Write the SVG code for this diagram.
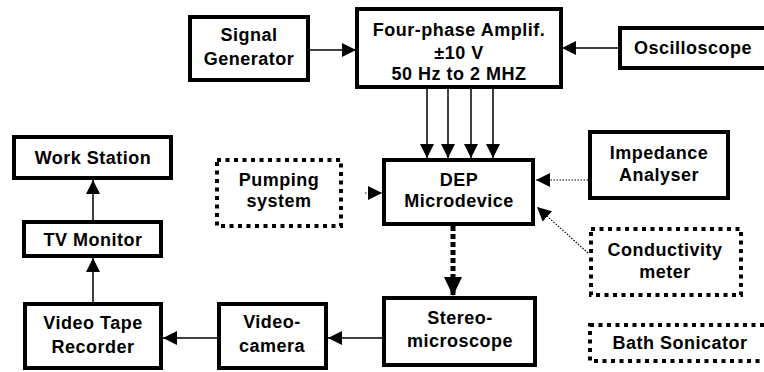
<svg xmlns="http://www.w3.org/2000/svg" width="764" height="372" viewBox="0 0 764 372">
  <style>
    .box { fill: #fff; stroke: #000; stroke-width: 4; }
    .dbox { fill: #fff; stroke: #000; stroke-width: 4; stroke-dasharray: 4 4.5; }
    .lbl { font-family: "Liberation Sans", Arial, sans-serif; font-weight: bold; font-size: 18px; letter-spacing: 0.5px; text-anchor: middle; dominant-baseline: central; fill: #000; }
    .wire { fill: none; stroke: #000; stroke-width: 1.5; }
    .dot { fill: none; stroke: #000; stroke-width: 1.2; stroke-dasharray: 1.5 1.5; }
    .thick { fill: none; stroke: #000; stroke-width: 5; stroke-dasharray: 5 3; }
  </style>
  <defs>
    <marker id="head" markerUnits="userSpaceOnUse" markerWidth="15" markerHeight="15" refX="14" refY="7" orient="auto">
      <path d="M0,0 L14,7 L0,14 z" fill="#000"/>
    </marker>
    <marker id="bighead" markerUnits="userSpaceOnUse" markerWidth="20" markerHeight="20" refX="19" refY="9" orient="auto">
      <path d="M0,0 L19,9 L0,18 z" fill="#000"/>
    </marker>
  </defs>
  <rect width="764" height="372" fill="#fff"/>

  <g id="connectors">
    <line class="wire" x1="310" y1="50" x2="356" y2="50" marker-end="url(#head)"/>
    <line class="wire" x1="618" y1="48" x2="562" y2="48" marker-end="url(#head)"/>
    <line class="wire" x1="427" y1="89" x2="427" y2="158" marker-end="url(#head)"/>
    <line class="wire" x1="448" y1="89" x2="448" y2="158" marker-end="url(#head)"/>
    <line class="wire" x1="471" y1="89" x2="471" y2="158" marker-end="url(#head)"/>
    <line class="wire" x1="493" y1="89" x2="493" y2="158" marker-end="url(#head)"/>
    <line class="dot" x1="365" y1="193" x2="382" y2="193" marker-end="url(#head)"/>
    <line class="dot" x1="588" y1="180" x2="536" y2="180" marker-end="url(#head)"/>
    <line class="dot" x1="588" y1="253" x2="537" y2="207" marker-end="url(#head)"/>
    <line class="thick" x1="453" y1="226" x2="453" y2="296" marker-end="url(#bighead)"/>
    <line class="wire" x1="382" y1="338" x2="328" y2="338" marker-end="url(#head)"/>
    <line class="wire" x1="217" y1="338" x2="163" y2="338" marker-end="url(#head)"/>
    <line class="wire" x1="93" y1="302" x2="93" y2="258" marker-end="url(#head)"/>
    <line class="wire" x1="93" y1="220" x2="93" y2="180" marker-end="url(#head)"/>
  </g>

  <g id="signal-generator">
    <rect class="box" x="190" y="17" width="118" height="63"/>
    <text class="lbl" x="249" y="35">Signal</text>
    <text class="lbl" x="249" y="59">Generator</text>
  </g>

  <g id="amplifier">
    <rect class="box" x="357" y="9" width="204" height="78"/>
    <text class="lbl" x="459" y="30">Four-phase Amplif.</text>
    <text class="lbl" x="459" y="53">±10 V</text>
    <text class="lbl" x="459" y="74">50  Hz to 2  MHZ</text>
  </g>

  <g id="oscilloscope">
    <rect class="box" x="620" y="28" width="160" height="40"/>
    <text class="lbl" x="693" y="48">Oscilloscope</text>
  </g>

  <g id="impedance-analyser">
    <rect class="box" x="590" y="132" width="138" height="66"/>
    <text class="lbl" x="659" y="153">Impedance</text>
    <text class="lbl" x="659" y="175">Analyser</text>
  </g>

  <g id="pumping-system">
    <rect class="dbox" x="217" y="160" width="124" height="66"/>
    <text class="lbl" x="279" y="180">Pumping</text>
    <text class="lbl" x="279" y="201">system</text>
  </g>

  <g id="dep-microdevice">
    <rect class="box" x="384" y="160" width="149" height="64"/>
    <text class="lbl" x="459" y="180">DEP</text>
    <text class="lbl" x="459" y="201">Microdevice</text>
  </g>

  <g id="conductivity-meter">
    <rect class="dbox" x="591" y="229" width="150" height="66"/>
    <text class="lbl" x="665" y="250">Conductivity</text>
    <text class="lbl" x="665" y="272">meter</text>
  </g>

  <g id="stereo-microscope">
    <rect class="box" x="384" y="298" width="151" height="67"/>
    <text class="lbl" x="460" y="318">Stereo-</text>
    <text class="lbl" x="460" y="341">microscope</text>
  </g>

  <g id="video-camera">
    <rect class="box" x="219" y="304" width="107" height="64"/>
    <text class="lbl" x="272" y="322">Video-</text>
    <text class="lbl" x="272" y="346">camera</text>
  </g>

  <g id="video-tape-recorder">
    <rect class="box" x="25" y="304" width="136" height="64"/>
    <text class="lbl" x="93" y="323">Video Tape</text>
    <text class="lbl" x="93" y="347">Recorder</text>
  </g>

  <g id="tv-monitor">
    <rect class="box" x="24" y="222" width="137" height="34"/>
    <text class="lbl" x="93" y="240">TV Monitor</text>
  </g>

  <g id="work-station">
    <rect class="box" x="14" y="137" width="157" height="41"/>
    <text class="lbl" x="93" y="158">Work Station</text>
  </g>

  <g id="bath-sonicator">
    <rect class="dbox" x="590" y="325" width="190" height="36"/>
    <text class="lbl" x="680" y="343">Bath Sonicator</text>
  </g>
</svg>
